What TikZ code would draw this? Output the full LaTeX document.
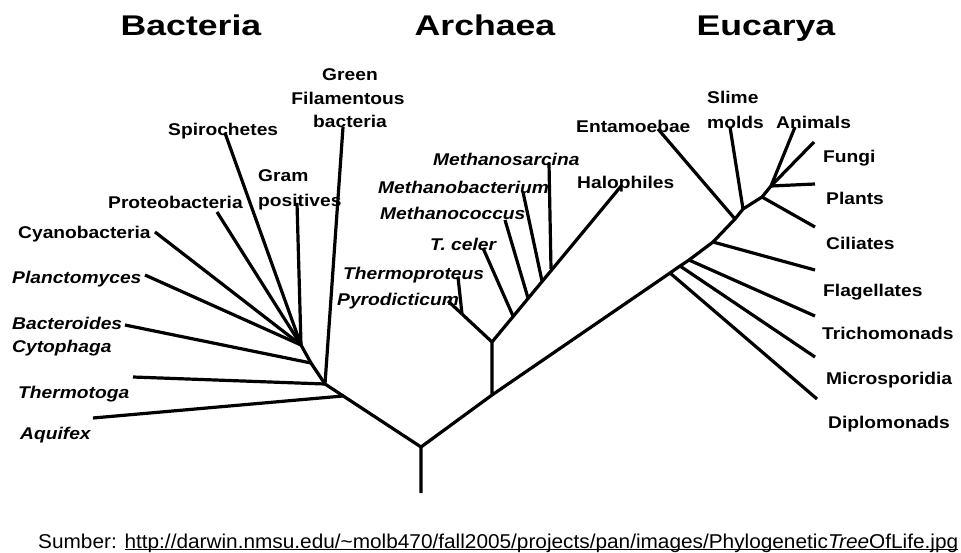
\documentclass[tikz,border=0pt]{standalone}
\usepackage{fontspec}
\setmainfont{Liberation Sans}
\usepackage{graphicx}
\usetikzlibrary{calc}
\newcommand\sx[1]{\scalebox{1.13}[1]{#1}}
\newcommand\hx[1]{\scalebox{1.25}[1]{#1}}
\newsavebox\ulbox
\newcommand\myul[1]{\sbox\ulbox{#1}\rlap{\rule[-2.2pt]{\wd\ulbox}{1.1pt}}\usebox\ulbox}
\begin{document}
\begin{tikzpicture}[x=1pt,y=-1pt,
  br/.style={line width=3.2pt, line join=round},
  lab/.style={inner sep=0pt, anchor=base west, font=\fontsize{17}{20}\selectfont\bfseries},
  ilab/.style={lab, font=\fontsize{17}{20}\selectfont\bfseries\itshape},
  hd/.style={inner sep=0pt, anchor=base, font=\fontsize{28.5}{32}\selectfont\bfseries}]
\useasboundingbox (0,0) rectangle (961,552);
% headers
\node[hd] (hB) at (191,35) {\hx{Bacteria}};
\node[hd] (hA) at (485,35) {\hx{Archaea}};
\node[hd] (hE) at (766,35) {\hx{Eucarya}};
% ---------- coordinates ----------
\coordinate (R0) at (421,493);
\coordinate (R) at (421,447);
% bacteria
\coordinate (B) at (325,384);
\coordinate (P2) at (311,363);
\coordinate (P1) at (301,345);
\coordinate (AqJ) at ($(B)!0.19!(R)$);
\coordinate (g) at (343,127);
\coordinate (gp) at (297,203);
\coordinate (sp) at (225,133);
\coordinate (pr) at (217,212);
\coordinate (cy) at (155,232);
\coordinate (pl) at (145,275);
\coordinate (bc) at (125,325);
\coordinate (tt) at (133,377);
\coordinate (aq) at (93,418);
% archaea
\coordinate (A0) at (492,395);
\coordinate (A1) at (492,342);
\coordinate (T) at (462,314);
\coordinate (py) at (448,301);
\coordinate (tp) at (458,277);
\coordinate (ha) at (622,185);
\coordinate (tcj) at (513,316);
\coordinate (mcj) at (528,298);
\coordinate (mbj) at (542,281);
\coordinate (msj) at (551,269);
\coordinate (tc) at (483,248);
\coordinate (mc) at (505,220);
\coordinate (mb) at (523,192);
\coordinate (ms) at (549,163);
% eucarya
\coordinate (dpj) at (670,273);
\coordinate (mij) at (680,266);
\coordinate (trj) at (689,260);
\coordinate (flj) at (713,242);
\coordinate (enj) at (735,219);
\coordinate (slj) at (743,209);
\coordinate (cij) at (762,197);
\coordinate (top) at (771,186);
\coordinate (dp) at (817,399);
\coordinate (mi) at (815,357);
\coordinate (tr) at (815,316);
\coordinate (fl) at (815,270);
\coordinate (ci) at (815,227);
\coordinate (plt) at (815,184);
\coordinate (fu) at (814,142);
\coordinate (an) at (795,127);
\coordinate (sl) at (730,127);
\coordinate (en) at (658,129);
% ---------- branches ----------
\draw[br] (R0) -- (R) -- (B) -- (P2) -- (P1);
\draw[br] (R) -- (A0) -- (A1) -- (T);
\draw[br] (B) -- (g);
\draw[br] (P1) -- (gp);
\draw[br] (P1) -- (sp);
\draw[br] (P1) -- (pr);
\draw[br] (P1) -- (cy);
\draw[br] (P1) -- (pl);
\draw[br] (P2) -- (bc);
\draw[br] (B) -- (tt);
\draw[br] (AqJ) -- (aq);
\draw[br] (T) -- (py);
\draw[br] (T) -- (tp);
\draw[br] (A1) -- (ha);
\draw[br] (tcj) -- (tc);
\draw[br] (mcj) -- (mc);
\draw[br] (mbj) -- (mb);
\draw[br] (msj) -- (ms);
\draw[br] (A0) -- (dpj) -- (mij) -- (trj) -- (flj) -- (enj) -- (slj) -- (cij) -- (top);
\draw[br] (dpj) -- (dp);
\draw[br] (mij) -- (mi);
\draw[br] (trj) -- (tr);
\draw[br] (flj) -- (fl);
\draw[br] (cij) -- (ci);
\draw[br] (top) -- (plt);
\draw[br] (top) -- (fu);
\draw[br] (top) -- (an);
\draw[br] (slj) -- (sl);
\draw[br] (enj) -- (en);
% ---------- labels ----------
\node[lab, anchor=base] (lG1) at (350,80) {\sx{Green}};
\node[lab, anchor=base] (lG2) at (348,104) {\sx{Filamentous}};
\node[lab, anchor=base] (lG3) at (350,127) {\sx{bacteria}};
\node[lab] (lSp) at (168,135) {\sx{Spirochetes}};
\node[lab] (lGr1) at (258,181) {\sx{Gram}};
\node[lab] (lGr2) at (258,206) {\sx{positives}};
\node[lab] (lPr) at (108,208) {\sx{Proteobacteria}};
\node[lab] (lCy) at (18,238) {\sx{Cyanobacteria}};
\node[ilab] (lPl) at (12,283) {\sx{Planctomyces}};
\node[ilab] (lBc) at (12,329) {\sx{Bacteroides}};
\node[ilab] (lCt) at (12,352) {\sx{Cytophaga}};
\node[ilab] (lTt) at (18,398) {\sx{Thermotoga}};
\node[ilab] (lAq) at (20,439) {\sx{Aquifex}};
\node[ilab] (lMs) at (433,165) {\sx{Methanosarcina}};
\node[ilab] (lMb) at (378,193) {\sx{Methanobacterium}};
\node[ilab] (lMc) at (380,219) {\sx{Methanococcus}};
\node[ilab] (lTc) at (430,250) {\sx{T. celer}};
\node[ilab] (lTp) at (343,279) {\sx{Thermoproteus}};
\node[ilab] (lPy) at (337,305) {\sx{Pyrodicticum}};
\node[lab] (lHa) at (577,188) {\sx{Halophiles}};
\node[lab] (lEn) at (576,132) {\sx{Entamoebae}};
\node[lab] (lSl1) at (707,103) {\sx{Slime}};
\node[lab] (lSl2) at (707,128) {\sx{molds}};
\node[lab] (lAn) at (776,128) {\sx{Animals}};
\node[lab] (lFu) at (823,162) {\sx{Fungi}};
\node[lab] (lPt) at (826,204) {\sx{Plants}};
\node[lab] (lCi) at (826,249) {\sx{Ciliates}};
\node[lab] (lFl) at (823,296) {\sx{Flagellates}};
\node[lab] (lTr) at (822,339) {\sx{Trichomonads}};
\node[lab] (lMi) at (826,384) {\sx{Microsporidia}};
\node[lab] (lDp) at (828,428) {\sx{Diplomonads}};
% footer
\node[inner sep=0pt, anchor=base west] (src) at (38,548)
  {\resizebox{920pt}{14.5pt}{\fontsize{18}{20}\selectfont Sumber: \myul{http://darwin.nmsu.edu/\textasciitilde molb470/fall2005/projects/pan/images/Phylogenetic\textit{Tree}OfLife.jpg}}};
\end{tikzpicture}
\end{document}
